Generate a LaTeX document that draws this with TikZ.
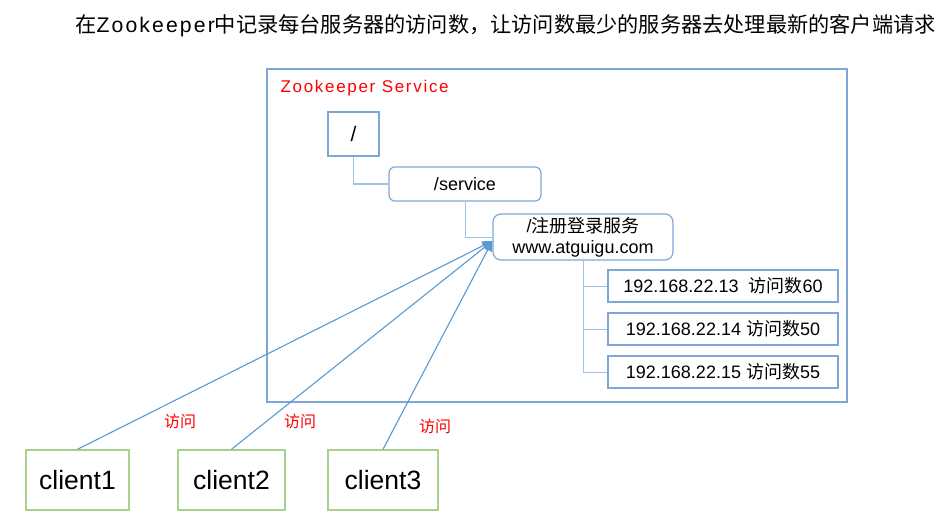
\documentclass[tikz,border=0pt]{standalone}
\usepackage{fontspec}
\setmainfont{Liberation Sans}
\newfontfamily\cjk{Noto Sans CJK SC}
\usepackage{xcolor}
\usepackage{tikz}
\usetikzlibrary{arrows.meta, positioning}
\definecolor{zkframe}{HTML}{7EA6D6}
\definecolor{zkline}{HTML}{9DC3E6}
\definecolor{zkarrow}{HTML}{5B9BD5}
\definecolor{zkgreen}{HTML}{A9D18E}

\begin{document}
\begin{tikzpicture}[
    x=1pt, y=-1pt,
    frame/.style={draw=zkframe, line width=1.2pt, inner sep=0pt},
    leaf/.style={frame, minimum width=230pt, minimum height=32pt,
                 font=\fontsize{18}{20}\selectfont},
    client/.style={draw=zkgreen, line width=1.4pt, inner sep=0pt,
                   minimum height=60pt, font=\fontsize{26.5}{28}\selectfont},
    tree/.style={draw=zkline, line width=1pt},
    visit/.style={-{Triangle[length=10pt, width=9pt]}, draw=zkarrow,
                  fill=zkarrow, line width=1.1pt},
    note/.style={text=red, font=\fontsize{16}{16}\selectfont\cjk}
]
\useasboundingbox (0,0) rectangle (940,516);

\node[font=\fontsize{21.2}{24}\selectfont] (title) at (505.5,26)
    {{\cjk 在}{\addfontfeature{LetterSpace=10}Zookeeper}{\cjk 中记录每台服务器的访问数，让访问数最少的服务器去处理最新的客户端请求}};

% Zookeeper service
\node[frame, minimum width=580pt, minimum height=333pt] (svc) at (557,235.5) {};
\node[anchor=west, text=red, font=\fontsize{17}{18}\selectfont\addfontfeature{LetterSpace=10}]
    (svclbl) at (277,88) {Zookeeper Service};

\node[frame, minimum width=51pt, minimum height=44pt, font=\fontsize{21}{21}\selectfont]
    (root) at (353.5,134) {/};
\node[frame, rounded corners=6pt, minimum width=152pt, minimum height=34pt,
      font=\fontsize{18}{20}\selectfont] (service) at (465,184) {/service};
\node[frame, rounded corners=8pt, minimum width=180pt, minimum height=46pt,
      align=center, font=\fontsize{18}{21}\selectfont]
    (reg) at (583,237) {/{\cjk 注册登录服务}\\www.atguigu.com};

\node[leaf] (ip1) at (723,286) {192.168.22.13\ \ {\cjk 访问数}60};
\node[leaf] (ip2) at (723,329) {192.168.22.14 {\cjk 访问数}50};
\node[leaf] (ip3) at (723,372) {192.168.22.15 {\cjk 访问数}55};

\draw[tree] (root.south) |- (service.west);
\draw[tree] (service.south) |- (reg.west);
\foreach \n in {ip1,ip2,ip3}
    \draw[tree] (reg.south) |- (\n.west);

% clients
\node[client, minimum width=103pt] (c1) at (77.5,480) {client1};
\node[client, minimum width=107pt] (c2) at (231.5,480) {client2};
\node[client, minimum width=110pt] (c3) at (383,480) {client3};

\coordinate (hit) at ([yshift=-4pt]reg.west);
\foreach \c in {c1,c2,c3}
    \draw[visit] (\c.north) -- (hit);

\node[note] (v1) at (180,421) {访问};
\node[note] (v2) at (300,421) {访问};
\node[note] (v3) at (435,426) {访问};
\end{tikzpicture}
\end{document}
